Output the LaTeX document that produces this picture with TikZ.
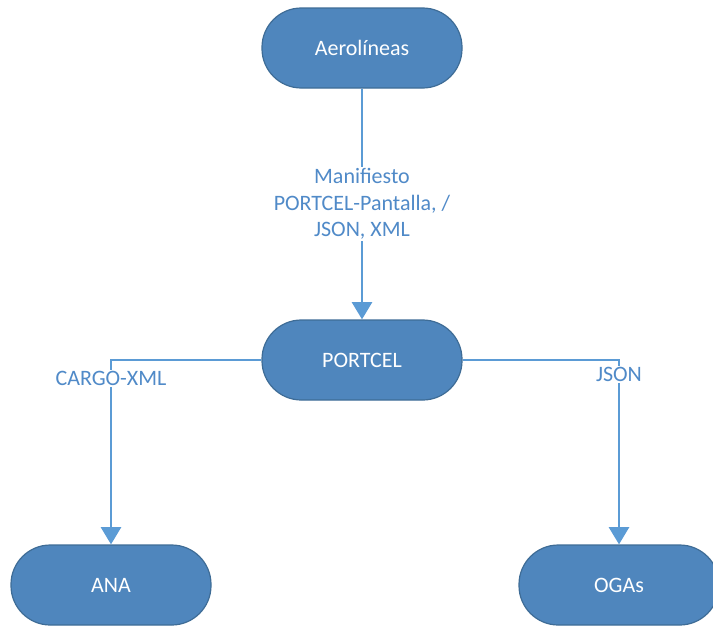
\documentclass[tikz,border=0pt]{standalone}
\usepackage{fontspec}
\setmainfont{Carlito}
\usetikzlibrary{arrows.meta}
\definecolor{boxfill}{RGB}{79,134,189}
\definecolor{boxline}{RGB}{62,108,150}
\definecolor{linkblue}{RGB}{91,155,213}
\definecolor{labelblue}{RGB}{80,138,200}
\tikzset{
  stadium/.style={draw=boxline, line width=0.9pt, fill=boxfill, text=white,
    rounded corners=29.5pt, minimum width=150pt, minimum height=60pt,
    font=\fontsize{16.5}{20}\selectfont},
  link/.style={draw=linkblue, line width=2.2pt,
    -{Triangle[width=15pt,length=13pt]}},
  tag/.style={fill=white, text=labelblue, align=center, inner sep=1pt,
    font=\fontsize{16.5}{20}\selectfont}
}
\begin{document}
\begin{tikzpicture}[x=0.75pt,y=-0.75pt]
	\useasboundingbox (0,0) rectangle (713,625);
	\node[stadium] (aero) at (362,48) {Aerolíneas};
	\node[stadium] (portcel) at (362,360) {PORTCEL};
	\node[stadium] (ana) at (111,585) {ANA};
	\node[stadium] (ogas) at (619,585) {OGAs};
	\draw[link] (aero) -- node[tag] {Manifiesto\\PORTCEL-Pantalla, /\\JSON, XML} (portcel);
	\draw[link] (portcel.west) -| node[tag, pos=0.55] {CARGO-XML} (ana.north);
	\draw[link] (portcel.east) -| node[tag, pos=0.54] {JSON} (ogas.north);
\end{tikzpicture}
\end{document}
